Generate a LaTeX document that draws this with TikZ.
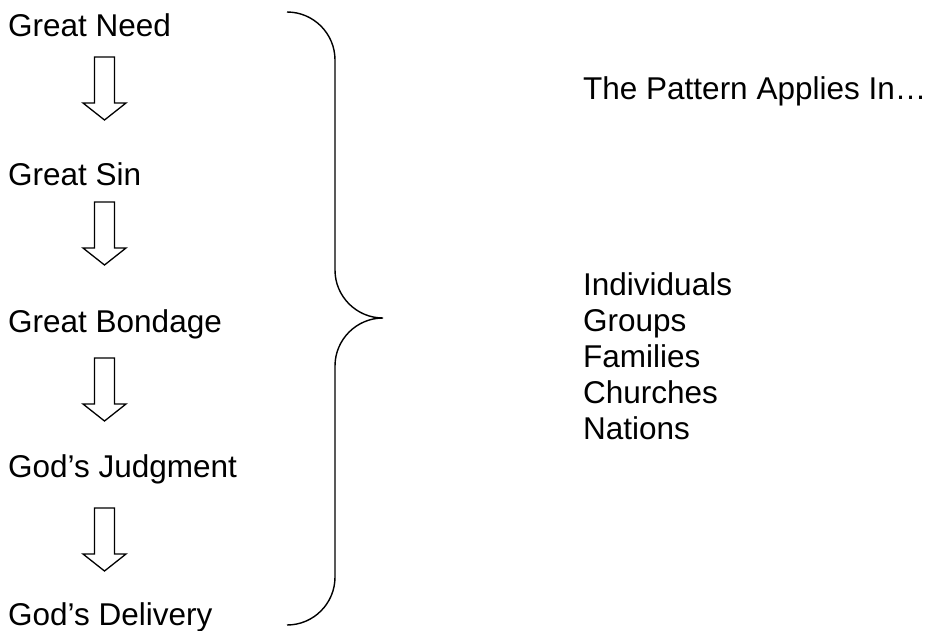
\documentclass[tikz,border=0pt]{standalone}
\usepackage{fontspec}
\setmainfont{Liberation Sans}
\tikzset{
  lbl/.style={anchor=base west, inner sep=0pt, font=\fontsize{31.5}{38}\selectfont},
  barrow/.style={draw, line width=1.3pt, fill=white, line join=miter},
  bracel/.style={draw, line width=1.4pt}
}
\newcommand\dnarrow[2]{%
  \draw[barrow] (94.5,#1) -- (114.5,#1) -- (114.5,{#2-17}) -- (126,{#2-17}) -- (104.5,#2)
    -- (83,{#2-17}) -- (94.5,{#2-17}) -- cycle;}
\begin{document}
\begin{tikzpicture}[x=1pt,y=-1pt]
\useasboundingbox (0,0) rectangle (932,630);
\node[lbl] (n1) at (8,36) {Great Need};
\node[lbl] (n2) at (8,185) {Great Sin};
\node[lbl] (n3) at (8,332) {Great Bondage};
\node[lbl] (n4) at (8,477) {God’s Judgment};
\node[lbl] (n5) at (8,625) {God’s Delivery};
\dnarrow{57}{120}
\dnarrow{202}{265}
\dnarrow{358}{421}
\dnarrow{508}{571}
\coordinate (btop) at (287,12);
\coordinate (btip) at (383,318);
\coordinate (bbot) at (287,625);
\draw[bracel] (btop) .. controls (313.5,12) and (335,33.5) .. (335,60)
  -- (335,270) .. controls (335,296.5) and (356.5,318) .. (btip)
  .. controls (356.5,318) and (335,339.5) .. (335,366)
  -- (335,577) .. controls (335,603.5) and (313.5,625) .. (bbot);
\node[lbl] (title) at (583,99) {The Pattern Applies In…};
\node[lbl] (i1) at (583,295) {Individuals};
\node[lbl] (i2) at (583,331) {Groups};
\node[lbl] (i3) at (583,367) {Families};
\node[lbl] (i4) at (583,403) {Churches};
\node[lbl] (i5) at (583,439) {Nations};
\end{tikzpicture}
\end{document}
